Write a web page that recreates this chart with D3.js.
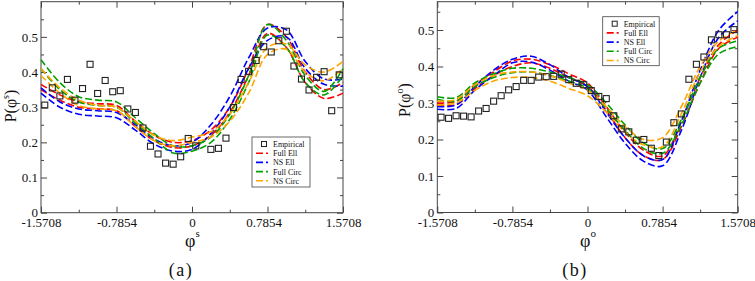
<!DOCTYPE html>
<html>
<head>
<meta charset="utf-8">
<script src="https://cdn.jsdelivr.net/npm/d3@7"></script>
<style>
    body { margin: 0; background: #fff; }
    svg text { font-family: "Liberation Serif", "Times New Roman", serif; fill: #111; }
</style>
</head>
<body>
<div id="chart"></div>
<script>

// angle grid for the model curves (-pi/2 .. pi/2, step pi/16)
var phiGrid = [-1.5708, -1.3744, -1.1781, -0.9817, -0.7854, -0.5890, -0.3927, -0.1963, 0,
    0.1963, 0.3927, 0.5890, 0.7854, 0.9817, 1.1781, 1.3744, 1.5708];

// histogram bin centres of the empirical data (40 bins)
var binCenters = [-1.5315, -1.4530, -1.3744, -1.2959, -1.2174, -1.1388, -1.0603, -0.9817, -0.9032, -0.8247,
    -0.7461, -0.6676, -0.5890, -0.5105, -0.4320, -0.3534, -0.2749, -0.1963, -0.1178, -0.0393,
    0.0393, 0.1178, 0.1963, 0.2749, 0.3534, 0.4320, 0.5105, 0.5890, 0.6676, 0.7461,
    0.8247, 0.9032, 0.9817, 1.0603, 1.1388, 1.2174, 1.2959, 1.3744, 1.4530, 1.5315];

var xTicks = [-1.5708, -0.7854, 0, 0.7854, 1.5708];
var xTickLabels = ["-1.5708", "-0.7854", "0", "0.7854", "1.5708"];
var yTicks = [0, 0.1, 0.2, 0.3, 0.4, 0.5];
var yTickLabels = ["0", "0.1", "0.2", "0.3", "0.4", "0.5"];

var seriesNames = ["Full Ell", "NS Ell", "Full Circ", "NS Circ"];
var seriesColors = ["#ff0000", "#0000ff", "#00a000", "#ffa500"];

// ---- panel (a): P(phi^s) ----
var empiricalA = [0.306, 0.355, 0.332, 0.379, 0.320, 0.353, 0.422, 0.339, 0.376, 0.344,
    0.347, 0.295, 0.285, 0.241, 0.189, 0.167, 0.141, 0.138, 0.159, 0.211,
    0.190, null, 0.180, 0.183, 0.212, 0.299, 0.379, 0.402, 0.433, 0.472,
    0.457, 0.489, 0.516, 0.417, 0.380, 0.349, 0.385, 0.401, 0.290, 0.392];

var fullEllUpA = [0.365, 0.335, 0.315, 0.310, 0.305, 0.260, 0.220, 0.200, 0.205, 0.235, 0.300, 0.410, 0.535, 0.500, 0.400, 0.350, 0.370];
var fullEllLoA = [0.350, 0.320, 0.300, 0.295, 0.290, 0.245, 0.205, 0.185, 0.190, 0.220, 0.285, 0.390, 0.510, 0.470, 0.370, 0.325, 0.340];
var nsEllUpA   = [0.355, 0.315, 0.295, 0.290, 0.285, 0.250, 0.210, 0.190, 0.200, 0.250, 0.330, 0.440, 0.525, 0.520, 0.430, 0.380, 0.380];
var nsEllLoA   = [0.340, 0.300, 0.280, 0.275, 0.270, 0.235, 0.195, 0.175, 0.180, 0.225, 0.300, 0.410, 0.490, 0.500, 0.410, 0.365, 0.360];
var fullCircUpA = [0.435, 0.370, 0.330, 0.320, 0.315, 0.270, 0.225, 0.190, 0.190, 0.215, 0.280, 0.390, 0.535, 0.490, 0.390, 0.345, 0.410];
var fullCircLoA = [0.410, 0.350, 0.315, 0.305, 0.300, 0.255, 0.210, 0.170, 0.175, 0.200, 0.265, 0.370, 0.505, 0.470, 0.370, 0.335, 0.390];
var nsCircUpA  = [0.410, 0.355, 0.320, 0.305, 0.300, 0.260, 0.220, 0.205, 0.215, 0.230, 0.280, 0.370, 0.470, 0.480, 0.420, 0.400, 0.430];
var nsCircLoA  = [0.390, 0.340, 0.305, 0.295, 0.290, 0.245, 0.205, 0.190, 0.200, 0.215, 0.260, 0.340, 0.450, 0.465, 0.400, 0.375, 0.410];

// ---- panel (b): P(phi^o) ----
var empiricalB = [0.261, 0.258, 0.265, 0.264, 0.262, 0.278, 0.285, 0.305, 0.320, 0.336,
    0.345, 0.362, 0.362, 0.371, 0.372, 0.373, 0.379, 0.364, 0.354, 0.350,
    0.334, 0.318, 0.312, 0.265, 0.229, 0.221, 0.198, 0.200, 0.176, 0.156,
    0.193, 0.246, 0.270, 0.365, 0.406, 0.426, 0.473, 0.487, 0.487, 0.501];

var fullEllUpB = [0.300, 0.305, 0.350, 0.385, 0.415, 0.420, 0.405, 0.380, 0.355, 0.290, 0.220, 0.170, 0.155, 0.250, 0.370, 0.460, 0.500];
var fullEllLoB = [0.295, 0.295, 0.340, 0.375, 0.400, 0.410, 0.395, 0.370, 0.345, 0.280, 0.205, 0.155, 0.145, 0.235, 0.355, 0.450, 0.480];
var nsEllUpB   = [0.290, 0.295, 0.345, 0.390, 0.420, 0.428, 0.405, 0.370, 0.345, 0.275, 0.205, 0.155, 0.145, 0.250, 0.390, 0.500, 0.550];
var nsEllLoB   = [0.283, 0.285, 0.335, 0.375, 0.410, 0.412, 0.390, 0.360, 0.335, 0.262, 0.190, 0.140, 0.128, 0.225, 0.370, 0.480, 0.525];
var fullCircUpB = [0.317, 0.315, 0.355, 0.380, 0.395, 0.395, 0.385, 0.370, 0.350, 0.300, 0.240, 0.190, 0.175, 0.255, 0.370, 0.450, 0.470];
var fullCircLoB = [0.310, 0.305, 0.345, 0.370, 0.383, 0.385, 0.375, 0.360, 0.340, 0.285, 0.225, 0.175, 0.162, 0.240, 0.355, 0.435, 0.455];
var nsCircUpB  = [0.305, 0.310, 0.350, 0.375, 0.385, 0.385, 0.375, 0.355, 0.335, 0.290, 0.235, 0.200, 0.205, 0.290, 0.400, 0.470, 0.500];
var nsCircLoB  = [0.295, 0.300, 0.335, 0.360, 0.370, 0.370, 0.360, 0.340, 0.320, 0.275, 0.220, 0.185, 0.180, 0.270, 0.385, 0.455, 0.485];


var svg = d3.select("#chart").append("svg")
    .attr("width", 755)
    .attr("height", 281);


PanelVis = function(_svg, _opts) {
    this.svg = _svg;
    this.opts = _opts;

    this.initVis();
}

PanelVis.prototype.initVis = function() {
    var vis = this;
    var o = vis.opts;

    vis.x = d3.scaleLinear()
        .domain([-1.5708, 1.5708])
        .range([o.left, o.right]);

    vis.y = d3.scaleLinear()
        .domain([0, o.yMax])
        .range([o.bottom, o.top]);

    vis.g = vis.svg.append("g");

    // frame
    vis.g.append("rect")
        .attr("x", o.left)
        .attr("y", o.top)
        .attr("width", o.right - o.left)
        .attr("height", o.bottom - o.top)
        .attr("fill", "none")
        .attr("stroke", "#444")
        .attr("stroke-width", 1);

    var xMinor = [-1.1781, -0.3927, 0.3927, 1.1781];
    var yMinor = [0.05, 0.15, 0.25, 0.35, 0.45, 0.55].filter(function(d){ return d < o.yMax; });

    // inward ticks on all four sides
    var axes = [
        d3.axisBottom(vis.x).tickValues(xTicks).tickSize(-6).tickFormat(function(d, i){ return xTickLabels[i]; }),
        d3.axisTop(vis.x).tickValues(xTicks).tickSize(-6).tickFormat(""),
        d3.axisBottom(vis.x).tickValues(xMinor).tickSize(-3).tickFormat(""),
        d3.axisTop(vis.x).tickValues(xMinor).tickSize(-3).tickFormat(""),
        d3.axisLeft(vis.y).tickValues(yTicks).tickSize(-6).tickFormat(function(d, i){ return yTickLabels[i]; }),
        d3.axisRight(vis.y).tickValues(yTicks).tickSize(-6).tickFormat(""),
        d3.axisLeft(vis.y).tickValues(yMinor).tickSize(-3).tickFormat(""),
        d3.axisRight(vis.y).tickValues(yMinor).tickSize(-3).tickFormat("")
    ];
    var shifts = ["translate(0," + o.bottom + ")", "translate(0," + o.top + ")",
        "translate(0," + o.bottom + ")", "translate(0," + o.top + ")",
        "translate(" + o.left + ",0)", "translate(" + o.right + ",0)",
        "translate(" + o.left + ",0)", "translate(" + o.right + ",0)"];

    axes.forEach(function(ax, i) {
        var a = vis.g.append("g")
            .attr("transform", shifts[i])
            .call(ax);
        a.select(".domain").remove();
        a.selectAll("line").attr("stroke", "#444");
        a.selectAll("text")
            .attr("font-family", "Liberation Serif, serif")
            .attr("font-size", 13)
            .attr("fill", "#111");
    });
    // put tick labels just outside the frame
    vis.g.selectAll("g").filter(function(d, i){ return i === 0; })
        .selectAll("text").attr("y", 5);
    vis.g.selectAll("g").filter(function(d, i){ return i === 4; })
        .selectAll("text").attr("x", -4);

    // y axis label, rotated
    var yl = vis.g.append("text")
        .attr("transform", "translate(" + o.yLabelX + "," + o.yLabelY + ") rotate(-90)")
        .attr("text-anchor", "middle")
        .attr("font-size", 16);
    yl.append("tspan").text("P(\u03c6");
    yl.append("tspan").attr("dy", -7).attr("font-size", 10).text(o.sup);
    yl.append("tspan").attr("dy", 7).text(")");

    // x axis label
    var xl = vis.g.append("text")
        .attr("x", o.xLabelX)
        .attr("y", 247)
        .attr("font-size", 18);
    xl.append("tspan").text("\u03c6");
    xl.append("tspan").attr("dy", -10).attr("font-size", 11).text(o.sup);

    // panel caption
    vis.g.append("text")
        .attr("x", o.captionX)
        .attr("y", 276)
        .attr("text-anchor", "middle")
        .attr("font-size", 18)
        .attr("letter-spacing", 1.5)
        .text(o.caption);

    vis.line = d3.line()
        .curve(d3.curveCatmullRom.alpha(0.5))
        .x(function(d) { return vis.x(d.phi); })
        .y(function(d) { return vis.y(d.p); });

    vis.wrangleData();
}

PanelVis.prototype.wrangleData = function() {
    var vis = this;

    vis.curves = [];
    vis.opts.bands.forEach(function(pair, i) {
        pair.forEach(function(arr) {
            vis.curves.push({
                color: seriesColors[i],
                values: phiGrid.map(function(phi, j) { return {phi: phi, p: arr[j]}; })
            });
        });
    });

    vis.points = binCenters.map(function(phi, j) {
        return {phi: phi, p: vis.opts.empirical[j]};
    }).filter(function(d) { return d.p !== null; });

    vis.updateVis();
}

PanelVis.prototype.updateVis = function() {
    var vis = this;
    var o = vis.opts;

    vis.g.selectAll(".model")
        .data(vis.curves)
        .enter().append("path")
        .attr("class", "model")
        .attr("d", function(d) { return vis.line(d.values); })
        .attr("fill", "none")
        .attr("stroke", function(d) { return d.color; })
        .attr("stroke-width", 1.6)
        .attr("stroke-dasharray", "7,3");

    vis.g.selectAll(".emp")
        .data(vis.points)
        .enter().append("rect")
        .attr("class", "emp")
        .attr("x", function(d) { return vis.x(d.phi) - 3; })
        .attr("y", function(d) { return vis.y(d.p) - 3; })
        .attr("width", 6)
        .attr("height", 6)
        .attr("fill", "none")
        .attr("stroke", "#222")
        .attr("stroke-width", 1.1);

    // legend
    var lg = vis.g.append("g")
        .attr("transform", "translate(" + o.legend.x + "," + o.legend.y + ")");
    lg.append("rect")
        .attr("width", o.legend.w)
        .attr("height", o.legend.h)
        .attr("fill", "#fff")
        .attr("stroke", "#444")
        .attr("stroke-width", 0.8);

    var rowH = 9.2;
    lg.append("rect")
        .attr("x", 9.5).attr("y", 4.5)
        .attr("width", 5).attr("height", 5)
        .attr("fill", "none").attr("stroke", "#222").attr("stroke-width", 1);
    lg.append("text")
        .attr("x", 21).attr("y", 10)
        .attr("font-size", 8)
        .text("Empirical");

    seriesNames.forEach(function(name, i) {
        var yy = 7 + rowH * (i + 1);
        lg.append("line")
            .attr("x1", 4).attr("x2", 16)
            .attr("y1", yy).attr("y2", yy)
            .attr("stroke", seriesColors[i])
            .attr("stroke-width", 1.6)
            .attr("stroke-dasharray", "7,3");
        lg.append("text")
            .attr("x", 21).attr("y", yy + 3)
            .attr("font-size", 8)
            .text(name);
    });
}


new PanelVis(svg, {
    left: 41, right: 343, top: 1.7, bottom: 212.7, yMax: 0.6,
    sup: "s", caption: "(a)", captionX: 181,
    yLabelX: 16, yLabelY: 106, xLabelX: 185,
    empirical: empiricalA,
    bands: [[fullEllUpA, fullEllLoA], [nsEllUpA, nsEllLoA], [fullCircUpA, fullCircLoA], [nsCircUpA, nsCircLoA]],
    legend: {x: 252, y: 137, w: 58, h: 50}
});

new PanelVis(svg, {
    left: 437.3, right: 737.7, top: 1.7, bottom: 212.5, yMax: 0.5775,
    sup: "o", caption: "(b)", captionX: 575,
    yLabelX: 410, yLabelY: 100, xLabelX: 580,
    empirical: empiricalB,
    bands: [[fullEllUpB, fullEllLoB], [nsEllUpB, nsEllLoB], [fullCircUpB, fullCircLoB], [nsCircUpB, nsCircLoB]],
    legend: {x: 602.7, y: 16.7, w: 56.5, h: 49}
});

</script>
</body>
</html>
